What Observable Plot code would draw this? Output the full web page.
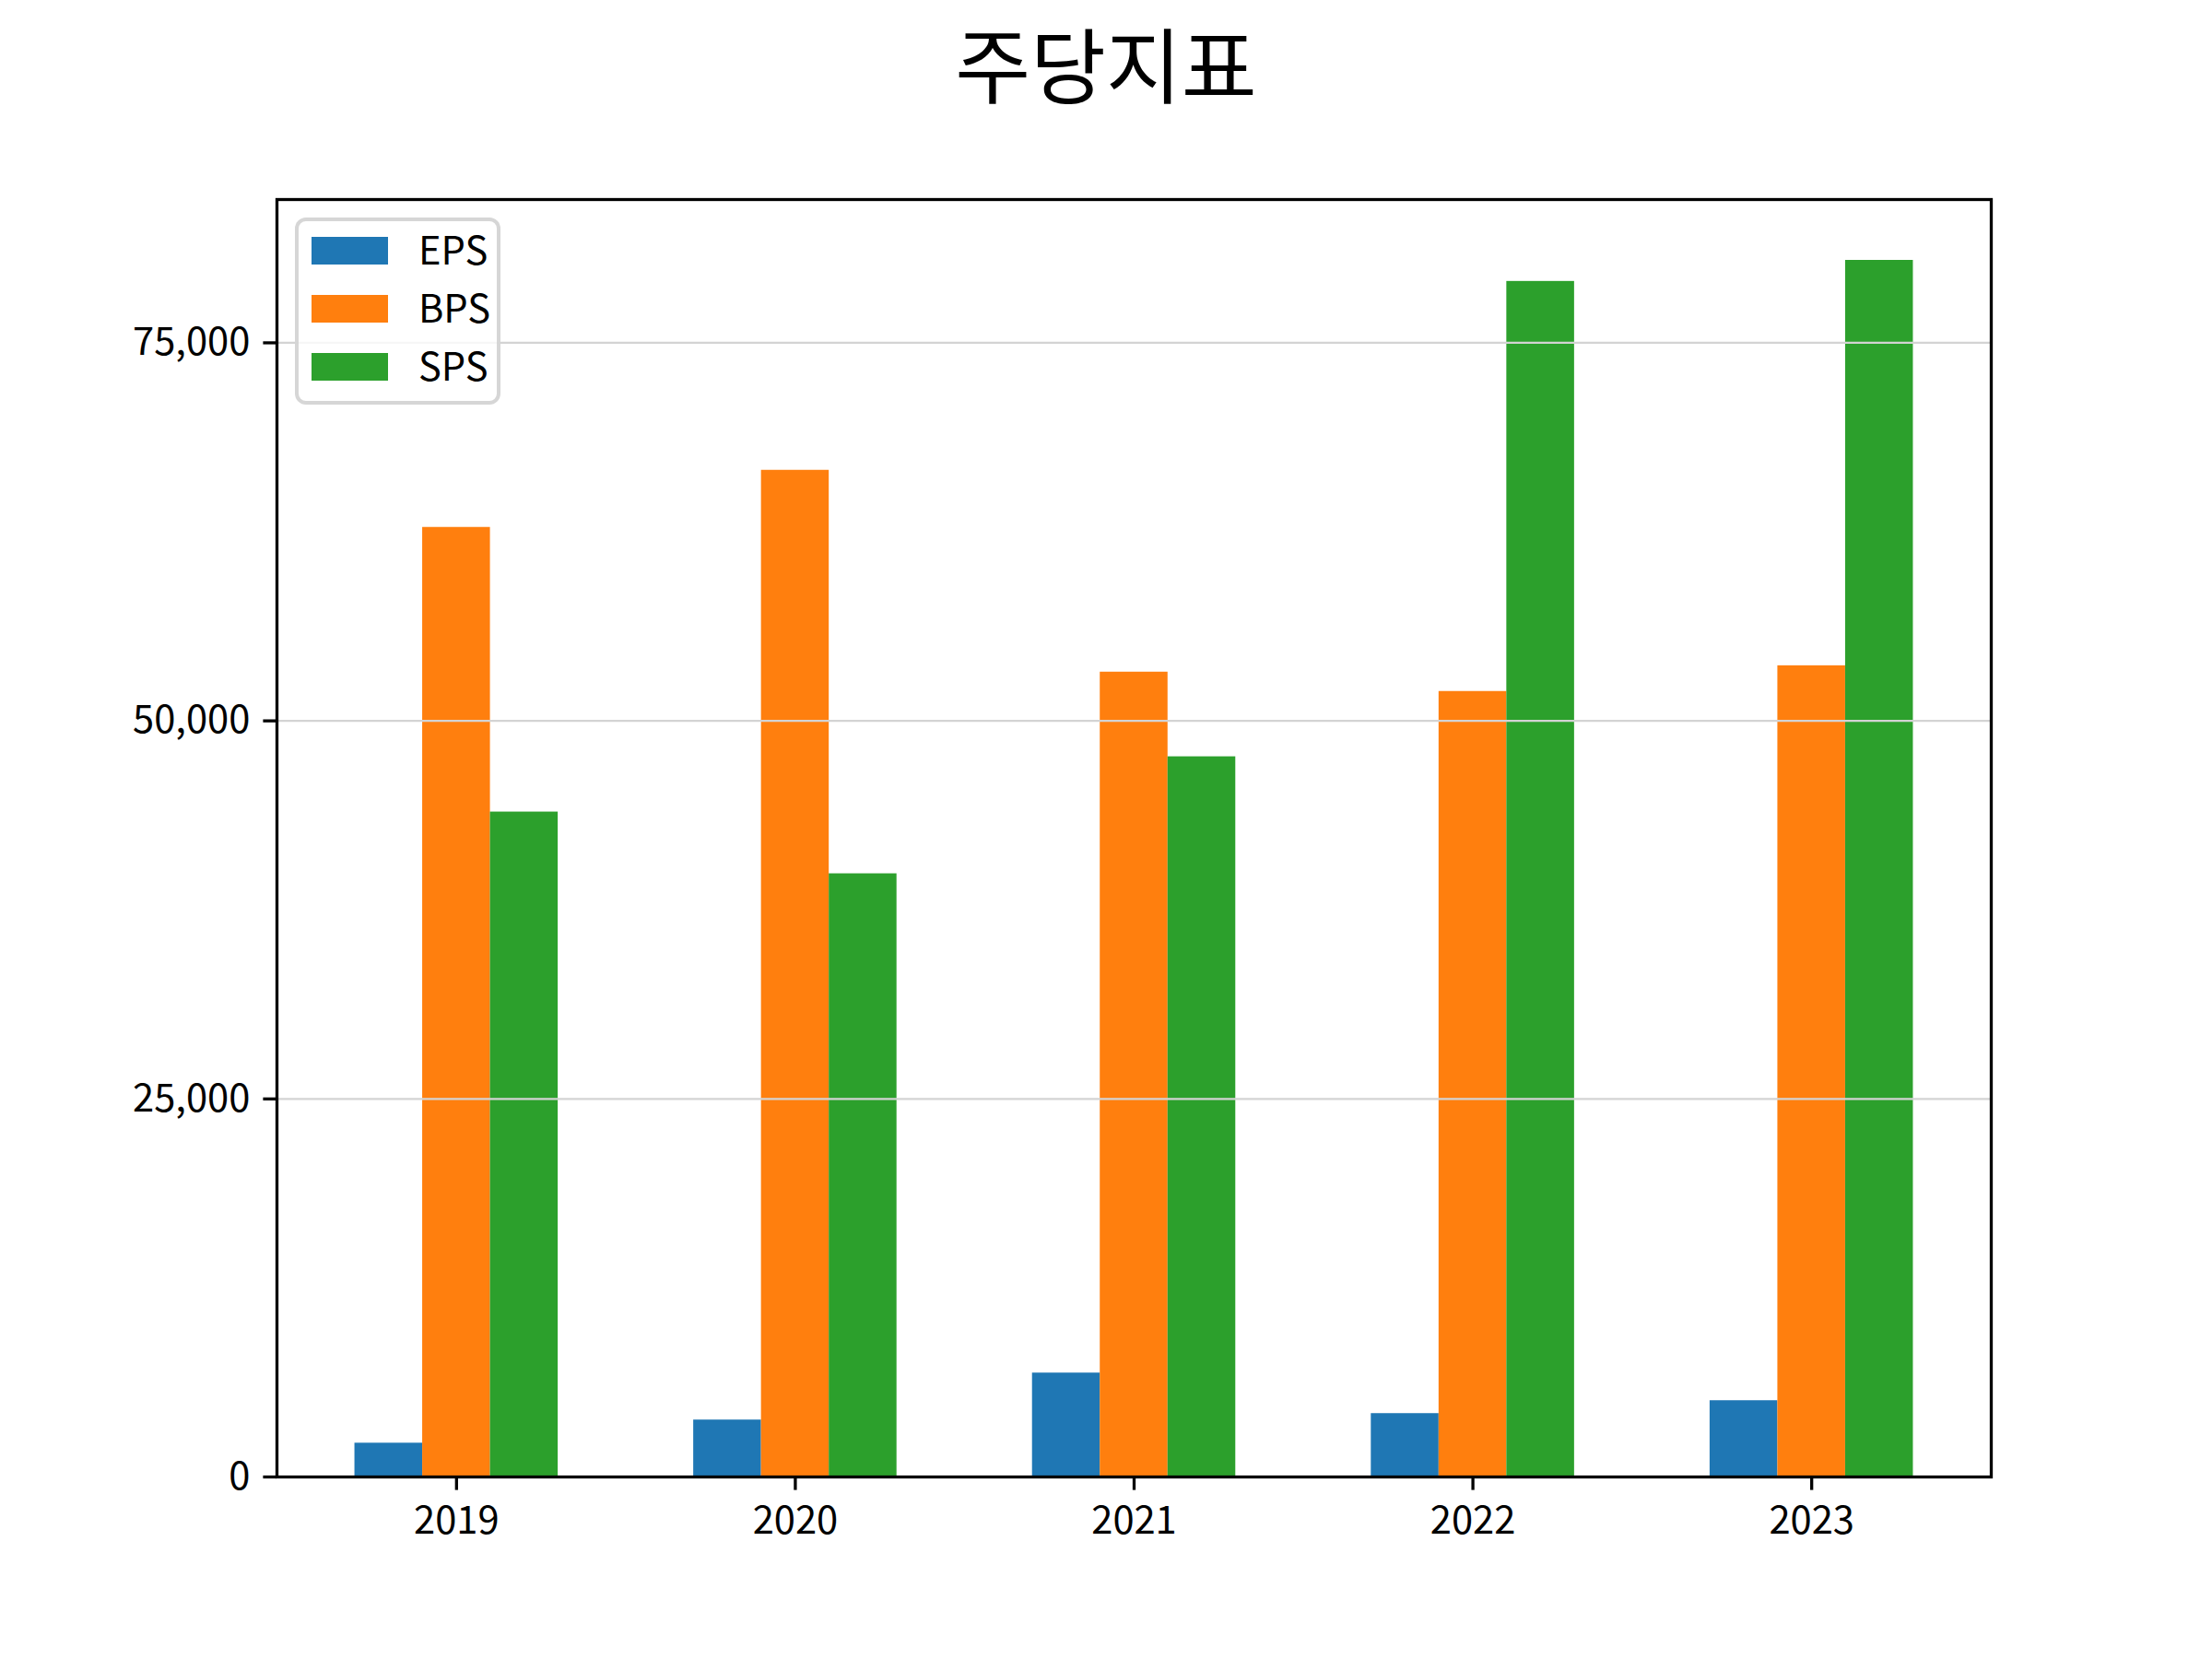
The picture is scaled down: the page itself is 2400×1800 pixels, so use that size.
<!DOCTYPE html>
<html>
<head>
<meta charset="utf-8">
<script src="https://cdn.jsdelivr.net/npm/d3@7"></script>
<script src="https://cdn.jsdelivr.net/npm/@observablehq/plot@0.6"></script>
<style>
  html, body { margin: 0; padding: 0; background: white; }
  #wrap { position: relative; width: 2400px; height: 1800px; font-family: "Noto Sans CJK KR", "Noto Sans", sans-serif; }
  #title { position: absolute; left: 0; width: 2400px; top: 22px; text-align: center; font-size: 89px; line-height: 89px; color: black; }
  #legend { position: absolute; left: 320px; top: 236px; width: 223px; box-sizing: border-box; border: 4px solid rgba(204,204,204,0.8); border-radius: 12px; background: rgba(255,255,255,0.8); padding: 0 0 6px 14px; }
  .row { display: flex; align-items: center; height: 63px; font-size: 41.67px; line-height: 41.67px; color: black; }
  .row span { position: relative; top: -2px; }
  .sw { width: 83px; height: 30px; margin-right: 33px; flex: none; }
</style>
</head>
<body>
<div id="wrap">
  <div id="chart"></div>
  <div id="title">주당지표</div>
  <div id="legend"></div>
</div>
<script>
const years = ["2019", "2020", "2021", "2022", "2023"];
const series = ["EPS", "BPS", "SPS"];
const colors = ["#1f77b4", "#ff7f0e", "#2ca02c"];
const eps = [2235, 3765, 6871, 4191, 5044];
const bps = [62793, 66570, 53222, 51943, 53643];
const sps = [43970, 39888, 47625, 79060, 80452];
const yTicks = [0, 25000, 50000, 75000];

const barWidth = 0.2;
const valuesBySeries = [eps, bps, sps];
const data = [];
years.forEach((yr, i) => {
  series.forEach((s, j) => data.push({year: yr, i, j, series: s, value: valuesBySeries[j][i]}));
});
const yMax = d3.max(data, d => d.value) * 1.05;
const half = barWidth * series.length / 2;
const span = (years.length - 1) + 2 * half;
const xDomain = [-half - 0.05 * span, years.length - 1 + half + 0.05 * span];

const chart = Plot.plot({
  width: 2400,
  height: 1800,
  marginLeft: 300,
  marginRight: 240,
  marginTop: 216,
  marginBottom: 198,
  style: {fontFamily: '"Noto Sans CJK KR", "Noto Sans", sans-serif', fontSize: "41.67px", color: "black", background: "white"},
  x: {domain: xDomain, label: null},
  y: {domain: [0, yMax], label: null},
  color: {domain: series, range: colors},
  marks: [
    Plot.rectY(data, {
      x1: d => d.i - half + d.j * barWidth,
      x2: d => d.i - half + (d.j + 1) * barWidth,
      y1: 0,
      y2: "value",
      fill: "series"
    }),
    Plot.ruleY(yTicks.filter(t => t > 0), {stroke: "#d3d3d3", strokeWidth: 2.2}),
    Plot.axisY({ticks: yTicks, tickFormat: d3.format(","), tickSize: 14.6, tickPadding: 14.6, strokeWidth: 3.3, label: null}),
    Plot.axisX({ticks: d3.range(years.length), tickFormat: i => years[i], tickSize: 14.6, tickPadding: 17.5, strokeWidth: 3.3, label: null}),
    Plot.frame({stroke: "black", strokeWidth: 3.3})
  ]
});
document.getElementById("chart").appendChild(chart);

const legend = document.getElementById("legend");
series.forEach((s, j) => {
  const row = document.createElement("div");
  row.className = "row";
  const sw = document.createElement("div");
  sw.className = "sw";
  sw.style.background = colors[j];
  const label = document.createElement("span");
  label.textContent = s;
  row.appendChild(sw);
  row.appendChild(label);
  legend.appendChild(row);
});
</script>
</body>
</html>
